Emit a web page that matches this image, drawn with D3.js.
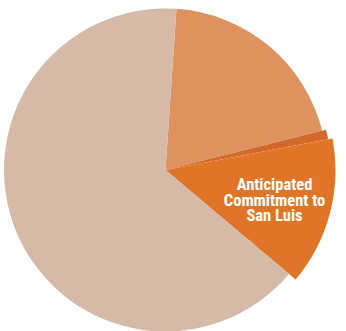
<!DOCTYPE html>
<html>
<head>
<meta charset="utf-8">
<script src="https://cdn.jsdelivr.net/npm/d3@7"></script>
<style>
  html, body { margin: 0; padding: 0; background: #ffffff; }
  svg { display: block; }
</style>
</head>
<body>
<svg id="chart" width="346" height="331"></svg>
<script>
// Data (shares of total)
const categories = ["Other A", "Other B", "Anticipated Commitment to San Luis", "Remaining"];
const values = [20.0, 0.95, 14.1, 64.95];
const labelLines = ["Anticipated", "Commitment to", "San Luis"];

// Styles
const colors = ["#DE925E", "#D2682A", "#E07528", "#D5BAA8"];
const radii = [161.5, 165.5, 170, 161.5];

const svg = d3.select("#chart");
const cx = 165.5, cy = 170;
const g = svg.append("g").attr("transform", `translate(${cx},${cy})`);

const startDeg = 3.9;
const pie = d3.pie().sort(null).value(d => d)
  .startAngle(startDeg * Math.PI / 180)
  .endAngle((startDeg + 360) * Math.PI / 180);
const arcs = pie(values);

g.selectAll("path.slice")
  .data(arcs)
  .enter().append("path")
  .attr("class", "slice")
  .attr("d", (d, i) => d3.arc().innerRadius(0).outerRadius(radii[i])(d))
  .attr("fill", (d, i) => colors[i]);

// Label
const label = svg.append("text")
  .attr("x", 274.5)
  .attr("y", 190)
  .attr("text-anchor", "middle")
  .attr("fill", "#ffffff")
  .style("font-family", "'Liberation Sans Narrow', 'Arial Narrow', 'Roboto Condensed', sans-serif")
  .style("font-weight", "bold")
  .style("font-size", "16.5px");
label.selectAll("tspan")
  .data(labelLines)
  .enter().append("tspan")
  .attr("x", 274.5)
  .attr("dy", (d, i) => i === 0 ? 0 : 15.5)
  .text(d => d);
</script>
</body>
</html>
